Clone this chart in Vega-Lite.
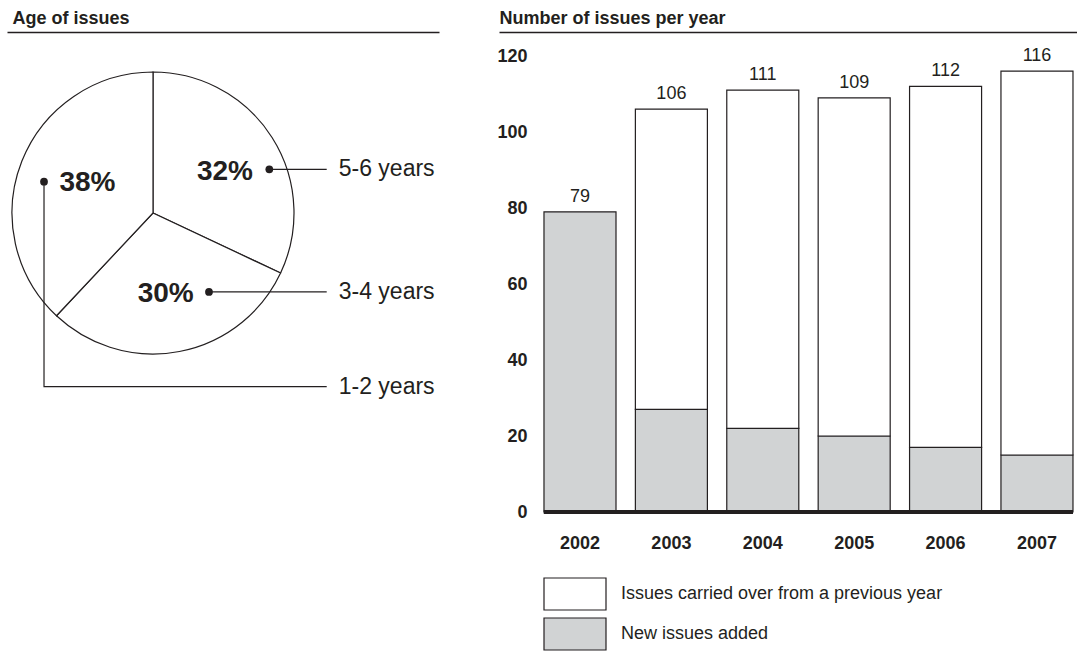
{
  "$schema": "https://vega.github.io/schema/vega-lite/v6.json",
  "background": "white",
  "padding": {"left": 7, "top": 9, "right": 0, "bottom": 0},
  "spacing": 57,
  "config": {
    "view": {"stroke": null},
    "font": "Liberation Sans",
    "axis": {"labelColor": "#231f20", "titleColor": "#231f20"},
    "legend": {"labelColor": "#231f20"}
  },
  "datasets": {
    "pie": [
      {"age": "5-6 years", "pct": 32},
      {"age": "3-4 years", "pct": 30},
      {"age": "1-2 years", "pct": 38}
    ],
    "pctLabels": [
      {"label": "32%", "x": 0.51, "y": 0.293},
      {"label": "30%", "x": 0.09, "y": -0.577},
      {"label": "38%", "x": -0.465, "y": 0.215}
    ],
    "leaders": [
      {"age": "5-6 years", "step": 0, "x": 0.825, "y": 0.31},
      {"age": "5-6 years", "step": 1, "x": 1.232, "y": 0.31},
      {"age": "3-4 years", "step": 0, "x": 0.397, "y": -0.56},
      {"age": "3-4 years", "step": 1, "x": 1.232, "y": -0.56},
      {"age": "1-2 years", "step": 0, "x": -0.773, "y": 0.222},
      {"age": "1-2 years", "step": 1, "x": -0.773, "y": -1.232},
      {"age": "1-2 years", "step": 2, "x": 1.232, "y": -1.232}
    ],
    "ageLabels": [
      {"age": "5-6 years", "x": 1.232, "y": 0.31},
      {"age": "3-4 years", "x": 1.232, "y": -0.56},
      {"age": "1-2 years", "x": 1.232, "y": -1.232}
    ],
    "bars": [
      {"year": "2002", "type": "New issues added", "count": 79},
      {"year": "2003", "type": "New issues added", "count": 27},
      {"year": "2003", "type": "Issues carried over from a previous year", "count": 79},
      {"year": "2004", "type": "New issues added", "count": 22},
      {"year": "2004", "type": "Issues carried over from a previous year", "count": 89},
      {"year": "2005", "type": "New issues added", "count": 20},
      {"year": "2005", "type": "Issues carried over from a previous year", "count": 89},
      {"year": "2006", "type": "New issues added", "count": 17},
      {"year": "2006", "type": "Issues carried over from a previous year", "count": 95},
      {"year": "2007", "type": "New issues added", "count": 15},
      {"year": "2007", "type": "Issues carried over from a previous year", "count": 101}
    ]
  },
  "hconcat": [
    {
      "width": 432,
      "height": 480,
      "layer": [
        {
          "data": {"name": "pie"},
          "mark": {"type": "arc", "radius": 141, "fill": "white", "stroke": "#231f20", "strokeWidth": 1.2},
          "encoding": {
            "theta": {"field": "pct", "type": "quantitative", "stack": true},
            "order": {"field": "age", "sort": "descending"},
            "detail": {"field": "age"},
            "x": {
              "datum": 0, "type": "quantitative",
              "scale": {"domain": [-1.0355, 2.0284], "nice": false, "zero": false},
              "axis": {
                "orient": "top", "title": "Age of issues", "labels": false, "ticks": false, "grid": false,
                "domain": true, "domainColor": "#231f20", "domainWidth": 1.5,
                "titleFontSize": 18, "titleFontWeight": "bold", "titleAlign": "left",
                "titleBaseline": "alphabetic", "titleX": 5, "titleY": -8.5
              }
            },
            "y": {
              "datum": 0, "type": "quantitative",
              "scale": {"domain": [-2.1206, 1.2837], "nice": false, "zero": false},
              "axis": null
            }
          }
        },
        {
          "data": {"name": "leaders"},
          "mark": {"type": "line", "color": "#231f20", "strokeWidth": 1.2},
          "encoding": {
            "x": {"field": "x", "type": "quantitative"},
            "y": {"field": "y", "type": "quantitative"},
            "detail": {"field": "age"},
            "order": {"field": "step"}
          }
        },
        {
          "data": {"name": "leaders"},
          "transform": [{"filter": "datum.step == 0"}],
          "mark": {"type": "point", "filled": true, "color": "#231f20", "size": 60, "opacity": 1},
          "encoding": {
            "x": {"field": "x", "type": "quantitative"},
            "y": {"field": "y", "type": "quantitative"}
          }
        },
        {
          "data": {"name": "pctLabels"},
          "mark": {"type": "text", "fontSize": 28, "fontWeight": "bold", "color": "#231f20", "baseline": "middle", "align": "center"},
          "encoding": {
            "x": {"field": "x", "type": "quantitative"},
            "y": {"field": "y", "type": "quantitative"},
            "text": {"field": "label"}
          }
        },
        {
          "data": {"name": "ageLabels"},
          "mark": {"type": "text", "fontSize": 23, "color": "#231f20", "baseline": "middle", "align": "left", "dx": 12},
          "encoding": {
            "x": {"field": "x", "type": "quantitative"},
            "y": {"field": "y", "type": "quantitative"},
            "text": {"field": "age"}
          }
        }
      ]
    },
    {
      "width": 581,
      "height": 480,
      "data": {"name": "bars"},
      "layer": [
        {
          "mark": {"type": "bar", "stroke": "#231f20", "strokeWidth": 1.2},
          "encoding": {
            "x": {
              "field": "year", "type": "nominal",
              "scale": {"paddingInner": 0.212, "paddingOuter": 0.2845, "align": 0.865},
              "axis": {
                "orient": "bottom", "title": null, "domain": false, "ticks": false, "grid": false,
                "labelAngle": 0, "labelFontSize": 18, "labelFontWeight": "bold",
                "labelPadding": 31, "labelBaseline": "middle"
              }
            },
            "y": {
              "field": "count", "type": "quantitative", "stack": true,
              "scale": {"domain": [0, 126.32], "nice": false},
              "axis": {
                "title": null, "values": [0, 20, 40, 60, 80, 100, 120], "domain": false, "ticks": false,
                "tickSize": 0, "grid": false, "labelAlign": "right", "labelPadding": -28,
                "labelFontSize": 18, "labelFontWeight": "bold", "labelBaseline": "middle"
              }
            },
            "fill": {
              "field": "type", "type": "nominal",
              "scale": {
                "domain": ["Issues carried over from a previous year", "New issues added"],
                "range": ["#ffffff", "#d1d3d4"]
              },
              "legend": {
                "orient": "none", "legendX": 551, "legendY": 545, "title": null, "padding": 0,
                "symbolType": "M-1.9375,-1H1.9375V1H-1.9375Z", "symbolSize": 1024,
                "symbolStrokeColor": "#231f20", "symbolStrokeWidth": 1.2,
                "labelFontSize": 18, "labelOffset": 29, "rowPadding": 2, "labelLimit": 500
              }
            },
            "order": {"field": "type", "sort": "descending"}
          }
        },
        {
          "mark": {"type": "rule", "color": "#231f20", "strokeWidth": 4},
          "encoding": {
            "x": {
              "datum": "2002", "type": "nominal", "bandPosition": 0,
              "axis": {
                "orient": "top", "title": "Number of issues per year", "labels": false, "ticks": false, "grid": false,
                "domain": true, "domainColor": "#231f20", "domainWidth": 1.5,
                "titleFontSize": 18, "titleFontWeight": "bold", "titleAlign": "left",
                "titleBaseline": "alphabetic", "titleX": 0, "titleY": -8.5
              }
            },
            "x2": {"datum": "2007", "bandPosition": 1},
            "y": {"datum": 0, "type": "quantitative"}
          }
        },
        {
          "transform": [{"aggregate": [{"op": "sum", "field": "count", "as": "total"}], "groupby": ["year"]}],
          "mark": {"type": "text", "fontSize": 18, "color": "#231f20", "baseline": "alphabetic", "dy": -10},
          "encoding": {
            "x": {"field": "year", "type": "nominal", "axis": null},
            "y": {"field": "total", "type": "quantitative"},
            "text": {"field": "total", "type": "quantitative"}
          }
        }
      ],
      "resolve": {"axis": {"x": "independent"}}
    }
  ]
}
